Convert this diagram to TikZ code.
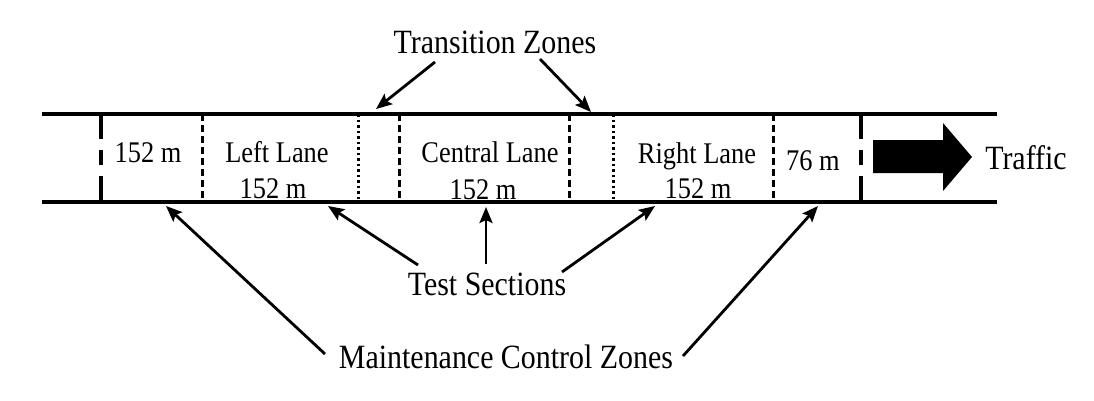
\documentclass[tikz,border=0pt]{standalone}
\usepackage{fontspec}
\setmainfont{Liberation Serif}[FakeStretch=0.88]
\usetikzlibrary{arrows.meta}
\begin{document}
\begin{tikzpicture}[x=1pt,y=-1pt,
  road/.style={line width=3.2pt},
  longdash/.style={line width=3.2pt,dash pattern=on 25pt off 11pt on 15pt off 11pt},
  shortdash/.style={line width=3pt,dash pattern=on 7pt off 4pt},
  dotline/.style={line width=3pt,dash pattern=on 2.5pt off 3pt},
  lbl/.style={font=\fontsize{30}{32}\selectfont,inner sep=0pt,anchor=base},
  biglbl/.style={font=\fontsize{34}{36}\selectfont,inner sep=0pt,anchor=base},
  pointer/.style={line width=2.8pt,-{Stealth[length=16pt,width=13pt,inset=3pt]}}]
\useasboundingbox (0,0) rectangle (1094,400);

% road edges
\coordinate (tl) at (42,114);  \coordinate (tr) at (997,114);
\coordinate (bl) at (42,202);  \coordinate (br) at (997,202);
\draw[road] (tl) -- (tr);
\draw[road] (bl) -- (br);

% section boundaries
\draw[longdash]  (101,114) -- (101,202);
\draw[shortdash] (202,114) -- (202,202);
\draw[dotline]   (358,114) -- (358,202);
\draw[shortdash] (399,114) -- (399,202);
\draw[shortdash] (569,114) -- (569,202);
\draw[dotline]   (613,114) -- (613,202);
\draw[shortdash] (773,114) -- (773,202);
\draw[longdash]  (861,114) -- (861,202);

% section labels (placed by baseline)
\node[lbl] (m1)  at (148,162) {152 m};
\node[lbl] (ll)  at (277,162) {Left Lane};
\node[lbl] (llm) at (273,198) {152 m};
\node[lbl] (cl)  at (490,162) {Central Lane};
\node[lbl] (clm) at (483,199) {152 m};
\node[lbl] (rl)  at (697,163) {Right Lane};
\node[lbl] (rlm) at (698,198) {152 m};
\node[lbl] (m2)  at (813,170) {76 m};

% traffic direction
\fill (873,140) -- (943,140) -- (943,123) -- (972,157) -- (943,191) -- (943,173) -- (873,173) -- cycle;
\node[biglbl] (traffic) at (1026,169) {Traffic};

% callout labels
\node[biglbl] (tz) at (495,53)  {Transition Zones};
\node[biglbl] (ts) at (487,295) {Test Sections};
\node[biglbl] (mz) at (506,368) {Maintenance Control Zones};

% callout pointers
\coordinate (tzA) at (435,62);  \coordinate (tzAt) at (376,109);
\coordinate (tzB) at (540,59);  \coordinate (tzBt) at (591,112);
\coordinate (tsA) at (418,265); \coordinate (tsAt) at (328,206);
\coordinate (tsB) at (486,264); \coordinate (tsBt) at (486,207);
\coordinate (tsC) at (562,272); \coordinate (tsCt) at (655,206);
\coordinate (mzA) at (325,354); \coordinate (mzAt) at (166,206);
\coordinate (mzB) at (683,356); \coordinate (mzBt) at (818,206);
\draw[pointer] (tzA) -- (tzAt);
\draw[pointer] (tzB) -- (tzBt);
\draw[pointer] (tsA) -- (tsAt);
\draw[pointer] (tsB) -- (tsBt);
\draw[pointer] (tsC) -- (tsCt);
\draw[pointer] (mzA) -- (mzAt);
\draw[pointer] (mzB) -- (mzBt);
\end{tikzpicture}
\end{document}
